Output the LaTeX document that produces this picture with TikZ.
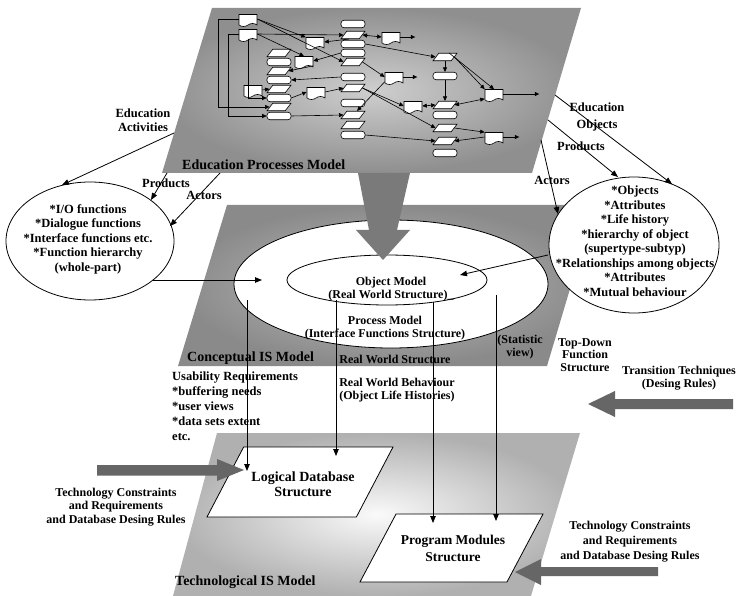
\documentclass[tikz,border=0pt]{standalone}
\usepackage{fontspec}
\setmainfont{Liberation Serif}
\usetikzlibrary{shapes.geometric,shapes.symbols,arrows.meta}

\tikzset{
  txt/.style={font=\fontsize{12.5}{14.5}\selectfont\bfseries, inner sep=0pt, align=center},
  small/.style={font=\fontsize{12}{13.5}\selectfont\bfseries, inner sep=0pt, align=center},
  ttl/.style={font=\fontsize{14}{16}\selectfont\bfseries, inner sep=0pt},
  conn/.style={line width=0.8pt, -{Triangle[length=7pt,width=5.5pt]}},
  oval/.style={draw, fill=white, ellipse, inner sep=0pt, line width=0.8pt},
  slab/.style={draw, fill=white, trapezium, trapezium left angle=72, trapezium right angle=108,
    trapezium stretches=true, inner sep=1pt, line width=0.8pt},
  blockarrow/.style={fill=black!60},
  % tiny flow-chart symbols
  fr/.style={draw, fill=white, rounded corners=3pt, minimum width=24pt, minimum height=7.5pt, inner sep=0pt, line width=0.6pt},
  fp/.style={draw, fill=white, trapezium, trapezium left angle=65, trapezium right angle=115,
    trapezium stretches=true, minimum width=24pt, minimum height=7.5pt, inner sep=1pt, line width=0.6pt},
  fd/.style={draw, fill=white, tape, tape bend top=none, tape bend height=3pt,
    minimum width=18pt, minimum height=12pt, inner sep=1pt, line width=0.6pt},
  fa/.style={line width=0.6pt, -{Triangle[length=4.5pt,width=4pt]}},
  fb/.style={line width=0.6pt, {Triangle[length=4.5pt,width=4pt]}-{Triangle[length=4.5pt,width=4pt]}},
}

\begin{document}
\begin{tikzpicture}[x=1pt,y=-1pt]
\useasboundingbox (0,0) rectangle (742,596);
\fill[white] (0,0) rectangle (742,596);

% ---------- the three model planes ----------
\shade[inner color=gray!38, outer color=gray!88] (212,8) -- (581,8) -- (532,173) -- (162,173) -- cycle;
\shade[inner color=gray!50, outer color=gray!92] (227,205) -- (595,205) -- (547,366) -- (178,366) -- cycle;
\shade[inner color=gray!4, outer color=gray!62] (217,433) -- (580,433) -- (531,596) -- (173,596) -- cycle;

% ---------- education process flow chart ----------
\node[fd] (a1) at (248,19) {};
\node[fd] (a2) at (248,34) {};
\node[fd] (a3) at (253,90) {};
\node[fp] (b0) at (279,53) {};
\node[fr] (b1) at (279,62) {};
\node[fp] (b2) at (279,71) {};
\node[fr] (b3) at (279,80) {};
\node[fp] (b4) at (279,89) {};
\node[fr] (b5) at (279,98) {};
\node[fp] (b6) at (279,107) {};
\node[fr] (b7) at (279,116) {};
\node[fd] (e1) at (315,42) {};
\node[fd] (e2) at (304,61) {};
\node[fd] (e3) at (316,92) {};
\node[fr] (c0) at (353,24) {};
\node[fp] (c1) at (353,35) {};
\node[fr] (c2) at (353,44) {};
\node[fr] (c3) at (353,53) {};
\node[fp] (c4) at (353,62) {};
\node[fr] (c5) at (353,77) {};
\node[fp] (c6) at (353,88) {};
\node[fr] (c7) at (353,103) {};
\node[fp] (c8) at (353,115) {};
\node[fp] (c9) at (353,125) {};
\node[fr] (c10) at (353,135) {};
\node[fd] (f1) at (391,37) {};
\node[fd] (f2) at (394,77) {};
\node[fd] (f3) at (413,106) {};
\node[fp] (d0) at (445,57) {};
\node[fr] (d1) at (445,76) {};
\node[fp] (d2) at (445,105) {};
\node[fr] (d3) at (445,115) {};
\node[fp] (d4) at (445,128) {};
\node[fp] (d5) at (445,141) {};
\node[fr] (d6) at (445,153) {};
\node[fd] (g1) at (494,94) {};
\node[fd] (g2) at (494,137) {};

\draw[fa] (a1.west) -- ++(-20,0) |- (b6.west);
\draw[fa] (a2.west) -- ++(-10,0) |- (b7.west);
\draw[fa] (a2.south) |- (b5.west);
\draw[fa] (a3.east) -- (b4.west);
\draw[fa] (a1.east) -- (e1.north west);
\draw[fa] (a2.east) -- (c1.west);
\draw[fa] (a1.east) -- (c4.west);
\draw[fa] (a2.east) -- (e2.north);
\draw[fb] (c1.east) -- (f1.west);
\draw[fa] (f1.east) -- ++(15,0);
\draw[fa] (c1.south west) -- (e1.east);
\draw[fa] (c2.east) -- (d0.west);
\draw[fa] (d0.south) -- (d1.north);
\draw[fa] (d1.south) -- (d2.north);
\draw[fa] (d0.east) -- (g1.north west);
\draw[fa] (g1.east) -- ++(36,0);
\draw[fb] (d2.east) -- (g1.south west);
\draw[fb] (f3.east) -- (d2.west);
\draw[fa] (c4.east) -- (f2.west);
\draw[fa] (f2.east) -- ++(14,0);
\draw[fa] (f2.south west) -- (c8.north east);
\draw[fa] (c5.west) -- (b3.east);
\draw[fa] (e2.south east) -- (b2.east);
\draw[fa] (c3.west) -- (e2.east);
\draw[fa] (b5.east) -- (e3.west);
\draw[fa] (e3.east) -- (c6.west);
\draw[fa] (c6.east) -- (f3.west);
\draw[fa] (c6.east) -- (d4.west);
\draw[fa] (b7.east) -- (c8.west);
\draw[fa] (c10.east) -- (d5.west);
\draw[fa] (d4.east) -- (g2.north west);
\draw[fa] (g2.west) -- (d5.east);
\draw[fa] (g2.east) -- ++(16,0);
\draw[fa] (d0.north east) -- (g1.north);

% ---------- conceptual model ovals ----------
\node[oval, minimum width=314pt, minimum height=128pt] (proc) at (391,284) {};
\node[oval, minimum width=200pt, minimum height=50pt] (objm) at (387,280) {};
\node[oval, minimum width=168pt, minimum height=118pt] (actl) at (90,241) {};
\node[oval, minimum width=170pt, minimum height=136pt] (objl) at (634,245) {};

% ---------- technological model boxes ----------
\node[slab, minimum width=186pt, minimum height=70pt] (ldb) at (300,482) {};
\node[slab, minimum width=183pt, minimum height=68pt] (pms) at (451.5,548) {};

% ---------- refinement arrow between the upper planes ----------
\fill[black!52] (358,173) -- (410,173) -- (397,230) -- (410,230) -- (383,260) -- (356,230) -- (369,230) -- cycle;

% ---------- connectors ----------
\coordinate (ea0) at (174,133);  \coordinate (ea1) at (62,185);
\coordinate (pl0) at (167,173);  \coordinate (pl1) at (151,200);
\coordinate (al0) at (220,173);  \coordinate (al1) at (170,226);
\coordinate (eo0) at (555,95);   \coordinate (eo1) at (672,184);
\coordinate (pr0) at (548,120);  \coordinate (pr1) at (618,177);
\coordinate (ar0) at (541,140);  \coordinate (ar1) at (558,214);
\coordinate (hl0) at (153,280);  \coordinate (hl1) at (262,280);
\coordinate (rl0) at (548,255);  \coordinate (rl1) at (460,275);
\coordinate (v10) at (247,300);  \coordinate (v11) at (247,471);
\coordinate (v20) at (336,300);  \coordinate (v21) at (336,456);
\coordinate (v30) at (433,302);  \coordinate (v31) at (433,523);
\coordinate (v40) at (496,295);  \coordinate (v41) at (496,521);

\draw[conn] (ea0) -- (ea1);
\draw[conn] (pl0) -- (pl1);
\draw[conn] (al0) -- (al1);
\draw[conn] (eo0) -- (eo1);
\draw[conn] (pr0) -- (pr1);
\draw[conn] (ar0) -- (ar1);
\draw[conn] (hl0) -- (hl1);
\draw[conn] (rl0) -- (rl1);
\draw[conn] (v10) -- (v11);
\draw[conn] (v20) -- (v21);
\draw[conn] (v30) -- (v31);
\draw[conn] (v40) -- (v41);

% ---------- transition block arrows ----------
\fill[blockarrow] (97,465) -- (217,465) -- (217,459) -- (244,470) -- (217,481) -- (217,475.5) -- (97,475.5) -- cycle;
\fill[blockarrow] (733,399) -- (615,399) -- (615,391) -- (588,404) -- (615,417) -- (615,409) -- (733,409) -- cycle;
\fill[blockarrow] (658,567) -- (541,567) -- (541,559) -- (515,572) -- (541,585) -- (541,576) -- (658,576) -- cycle;

% ---------- texts ----------
\node[txt] (tEA) at (143,120) {Education\\Activities};
\node[ttl, anchor=west] (tEPM) at (182,165) {Education Processes Model};
\node[txt] (tPL) at (166,183) {Products};
\node[txt] (tAL) at (204,195) {Actors};
\node[txt] (tEO) at (597,117) {Education\\[3pt]Objects};
\node[txt] (tPR) at (581,146) {Products};
\node[txt] (tAR) at (552,180) {Actors};

\node[txt] (tAct) at (88,239) {*I/O functions\\*Dialogue functions\\*Interface functions etc.\\*Function hierarchy\\(whole-part)};
\node[txt] (tObj) at (635,241) {*Objects\\*Attributes\\*Life history\\*hierarchy of object\\(supertype-subtyp)\\*Relationships among objects\\*Attributes\\*Mutual behaviour};

\node[small] (tOM) at (391,289) {Object Model\\(Real World Structure)\_};
\node[small] (tPM) at (385,328) {Process Model\\(Interface Functions Structure)};
\node[small] (tRWS) at (395,359) {Real World Structure};
\node[ttl, anchor=west] (tCIS) at (187,358) {Conceptual IS Model};
\node[small] (tSV) at (520,347) {(Statistic\\view)};

\node[txt, align=left, anchor=north west, font=\fontsize{12.5}{15}\selectfont\bfseries] (tUR) at (172,372)
  {Usability Requirements\\*buffering needs\\*user views\\*data sets extent\\etc.};
\node[small] (tRWB) at (397,390) {Real World Behaviour\\(Object Life Histories)};
\node[small, font=\fontsize{12}{12.5}\selectfont\bfseries] (tTD) at (585,355) {Top-Down\\Function\\Structure};
\node[small] (tTT) at (679,378) {Transition Techniques\\(Desing Rules)};

\node[ttl, align=center, font=\fontsize{14}{15}\selectfont\bfseries] (tLDB) at (303,484) {Logical Database\\Structure};
\node[ttl, align=center, font=\fontsize{13.5}{17}\selectfont\bfseries] (tPMS) at (453,548) {Program Modules\\Structure};

\node[small] (tTC1) at (116,507) {Technology Constraints\\and Requirements\\and Database Desing Rules};
\node[small, font=\fontsize{12}{15}\selectfont\bfseries] (tTC2) at (630,542) {Technology Constraints\\and Requirements\\and Database Desing Rules};
\node[ttl, anchor=west] (tTIS) at (175,582) {Technological IS Model};
\end{tikzpicture}
\end{document}
